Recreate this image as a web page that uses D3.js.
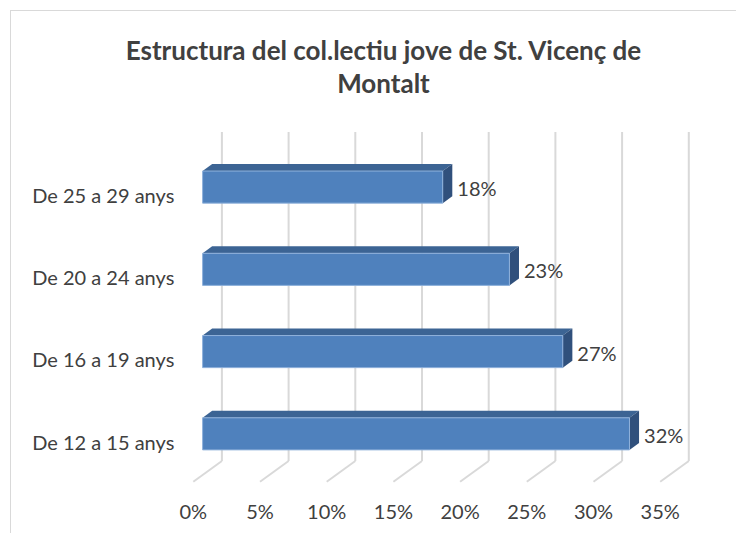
<!DOCTYPE html>
<html>
<head>
<meta charset="utf-8">
<script src="https://cdn.jsdelivr.net/npm/d3@7"></script>
<style>
  body { margin: 0; background: #fff; }
  text { font-family: Lato, "Open Sans", sans-serif; }
</style>
</head>
<body>
<svg id="chart" width="736" height="533"></svg>
<script>
// data
var categories = ["De 25 a 29 anys", "De 20 a 24 anys", "De 16 a 19 anys", "De 12 a 15 anys"];
var values = [0.18, 0.23, 0.27, 0.32];
var ticks = [0, 0.05, 0.10, 0.15, 0.20, 0.25, 0.30, 0.35];
var titleLines = ["Estructura del col.lectiu jove de St. Vicenç de", "Montalt"];

var svg = d3.select("#chart");

// chart frame
svg.append("rect")
    .attr("x", 10.5).attr("y", 10.5)
    .attr("width", 800).attr("height", 600)
    .attr("fill", "#fff").attr("stroke", "#d9d9d9");

// front plane scales (depth 0 = front floor edge)
var x = d3.scaleLinear().domain([0, 0.35]).range([193.3, 660.2]);
var y = d3.scaleBand().domain(categories).range([152.7, 481.7])
    .paddingInner(0.61).paddingOuter(0.305);
var depthX = 28.6, depthY = -20.7;   // offset from front to back wall
var d0 = 0.325, d1 = 0.66;           // bar depth

function pt(v, yy, d) {
    return [x(v) + depthX * d, yy + depthY * d];
}
var floorY = 481.7, topY = 152.7;

// back wall gridlines + floor lines
var grid = svg.append("g").attr("stroke", "#d9d9d9").attr("stroke-width", 2).attr("fill", "none");
grid.selectAll("line.v").data(ticks).enter().append("line")
    .attr("x1", function (d) { return pt(d, topY, 1)[0]; })
    .attr("y1", function (d) { return pt(d, topY, 1)[1]; })
    .attr("x2", function (d) { return pt(d, floorY, 1)[0]; })
    .attr("y2", function (d) { return pt(d, floorY, 1)[1]; });
grid.selectAll("line.f").data(ticks).enter().append("line")
    .attr("x1", function (d) { return pt(d, floorY, 1)[0]; })
    .attr("y1", function (d) { return pt(d, floorY, 1)[1]; })
    .attr("x2", function (d) { return pt(d, floorY, 0)[0]; })
    .attr("y2", function (d) { return pt(d, floorY, 0)[1]; });

// bars
var data = categories.map(function (c, i) { return { cat: c, val: values[i] }; });
var bars = svg.append("g").selectAll("g").data(data).enter().append("g");

function poly(points) {
    return points.map(function (p) { return p.join(","); }).join(" ");
}
// top face
bars.append("polygon")
    .attr("fill", "#3c6494")
    .attr("points", function (d) {
        var t = y(d.cat);
        return poly([pt(0, t, d0), pt(d.val, t, d0), pt(d.val, t, d1), pt(0, t, d1)]);
    });
// side face
bars.append("polygon")
    .attr("fill", "#30507c")
    .attr("points", function (d) {
        var t = y(d.cat), b = t + y.bandwidth();
        return poly([pt(d.val, t, d0), pt(d.val, t, d1), pt(d.val, b, d1), pt(d.val, b, d0)]);
    });
// front face
bars.append("polygon")
    .attr("fill", "#4f81bd")
    .attr("stroke", "#8fb1db").attr("stroke-width", 1)
    .attr("points", function (d) {
        var t = y(d.cat), b = t + y.bandwidth();
        return poly([pt(0, t, d0), pt(d.val, t, d0), pt(d.val, b, d0), pt(0, b, d0)]);
    });

// data labels
bars.append("text")
    .attr("x", function (d) { return pt(d.val, 0, d1)[0] + 5; })
    .attr("y", function (d) { return pt(0, y(d.cat) + y.bandwidth() / 2, d0)[1] + 1; })
    .attr("dominant-baseline", "central")
    .attr("font-size", 20)
    .attr("fill", "#404040")
    .text(function (d) { return d3.format(".0%")(d.val); });

// category labels
svg.append("g").selectAll("text").data(categories).enter().append("text")
    .attr("x", x(0) - 19)
    .attr("y", function (d) { return y(d) + y.bandwidth() / 2 + 1; })
    .attr("text-anchor", "end")
    .attr("dominant-baseline", "central")
    .attr("font-size", 20)
    .attr("fill", "#404040")
    .text(function (d) { return d; });

// value axis labels
svg.append("g").selectAll("text").data(ticks).enter().append("text")
    .attr("x", function (d) { return x(d); })
    .attr("y", 511)
    .attr("text-anchor", "middle")
    .attr("dominant-baseline", "central")
    .attr("font-size", 20)
    .attr("fill", "#404040")
    .text(function (d) { return d3.format(".0%")(d); });

// title
svg.append("g").selectAll("text").data(titleLines).enter().append("text")
    .attr("x", 383.5)
    .attr("y", function (d, i) { return 50 + i * 33; })
    .attr("text-anchor", "middle")
    .attr("dominant-baseline", "central")
    .attr("font-size", 26)
    .attr("font-weight", "bold")
    .attr("fill", "#404040")
    .text(function (d) { return d; });
</script>
</body>
</html>
